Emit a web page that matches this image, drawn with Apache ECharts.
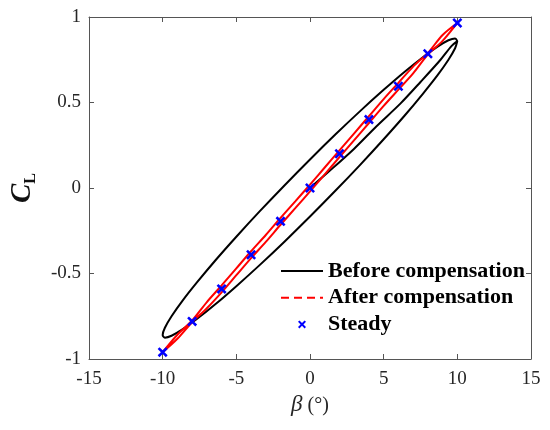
<!DOCTYPE html>
<html>
<head>
<meta charset="utf-8">
<title>CL - beta</title>
<script src="https://cdn.jsdelivr.net/npm/echarts@6/dist/echarts.min.js"></script>
<style>
    html, body { margin: 0; padding: 0; background: #fff; }
    #main { width: 550px; height: 430px; }
</style>
</head>
<body>
<div id="main"></div>
<script>
// data
// before compensation: start at origin, then one full loop (down branch, up branch)
var beforeBeta = [0, 1.2, 3, 4.5, 6.15, 7.5, 8.86, 9.6, 10,
    9.848, 9.397, 8.66, 7.66, 6.428, 5, 3.42, 1.736, 0, -1.736, -3.42, -5, -6.428, -7.66, -8.66, -9.397, -9.848, -10,
    -9.848, -9.397, -8.66, -7.66, -6.428, -5, -3.42, -1.736, 0, 1.736, 3.42, 5, 6.428, 7.66, 8.66, 9.397, 9.848, 10];
var beforeCl = [0, 0.09, 0.23, 0.36, 0.495, 0.62, 0.75, 0.83, 0.859,
    0.817, 0.75, 0.66, 0.551, 0.424, 0.285, 0.137, -0.015, -0.167, -0.314, -0.451, -0.574, -0.68, -0.765, -0.827, -0.864, -0.875, -0.859,
    -0.817, -0.75, -0.66, -0.551, -0.424, -0.285, -0.137, 0.015, 0.167, 0.314, 0.451, 0.574, 0.68, 0.765, 0.827, 0.864, 0.875, 0.859];

// after compensation: narrow loop
var afterBeta = [-10, -9, -8, -7, -6, -5, -4, -3, -2, -1, 0, 1, 2, 3, 4, 5, 6, 7, 8, 9, 10,
    9, 8, 7, 6, 5, 4, 3, 2, 1, 0, -1, -2, -3, -4, -5, -6, -7, -8, -9, -10];
var afterCl = [-0.96, -0.882, -0.785, -0.703, -0.61, -0.51, -0.41, -0.315, -0.215, -0.118, -0.02, 0.08, 0.18, 0.28, 0.38, 0.48, 0.575, 0.67, 0.78, 0.86, 0.965,
    0.895, 0.79, 0.71, 0.615, 0.52, 0.42, 0.32, 0.22, 0.12, 0.02, -0.078, -0.175, -0.275, -0.37, -0.47, -0.57, -0.667, -0.775, -0.858, -0.96];

// steady points
var steadyBeta = [-10, -8, -6, -4, -2, 0, 2, 4, 6, 8, 10];
var steadyCl = [-0.96, -0.78, -0.59, -0.39, -0.195, 0, 0.2, 0.4, 0.595, 0.785, 0.965];

var seriesNames = ['Before compensation', 'After compensation', 'Steady'];

function pairs(xs, ys) {
    var out = [];
    for (var i = 0; i < xs.length; i++) {
        out.push([xs[i], ys[i]]);
    }
    return out;
}

var serif = '"Liberation Serif", "Times New Roman", serif';
var axisColor = '#555';
var crossPath = 'path://M0,1.8 L1.8,0 L5,3.2 L8.2,0 L10,1.8 L6.8,5 L10,8.2 L8.2,10 L5,6.8 L1.8,10 L0,8.2 L3.2,5 Z';

// box axis: same range on the opposite side, ticks only
function boxAxis(pos, min, max, interval) {
    return {
        type: 'value',
        position: pos,
        min: min,
        max: max,
        interval: interval,
        axisLine: { show: true, onZero: false, lineStyle: { color: axisColor, width: 1 } },
        axisTick: { show: true, inside: true, length: 5, lineStyle: { color: axisColor, width: 1 } },
        axisLabel: { show: false },
        splitLine: { show: false }
    };
}

function getOption() {
    var xMain = boxAxis('bottom', -15, 15, 5);
    xMain.axisLabel = { show: true, margin: 11, color: '#262626', fontFamily: serif, fontSize: 19 };
    xMain.name = '{b|β}{d| (°)}';
    xMain.nameLocation = 'middle';
    xMain.nameGap = 32;
    xMain.nameTextStyle = {
        rich: {
            b: { fontFamily: serif, fontStyle: 'italic', fontSize: 23, color: '#262626' },
            d: { fontFamily: serif, fontSize: 20, color: '#262626' }
        }
    };
    var xTop = boxAxis('top', -15, 15, 5);

    var yMain = boxAxis('left', -1, 1, 0.5);
    yMain.axisLabel = { show: true, margin: 8, color: '#262626', fontFamily: serif, fontSize: 19 };
    yMain.name = '{c|C}{l|L}';
    yMain.nameLocation = 'middle';
    yMain.nameGap = 50;
    yMain.nameTextStyle = {
        rich: {
            c: { fontFamily: serif, fontStyle: 'italic', fontWeight: 'bold', fontSize: 29, lineHeight: 32, color: '#111' },
            l: { fontFamily: serif, fontWeight: 'bold', fontSize: 16, lineHeight: 16, verticalAlign: 'bottom', color: '#111' }
        }
    };
    var yRight = boxAxis('right', -1, 1, 0.5);

    var option = {
        backgroundColor: '#fff',
        animation: false,
        grid: { left: 89, right: 19, top: 17, bottom: 71 },
        xAxis: [xMain, xTop],
        yAxis: [yMain, yRight],
        legend: {
            orient: 'vertical',
            left: 280,
            top: 260,
            padding: 0,
            itemWidth: 42,
            itemHeight: 8,
            itemGap: 4.7,
            textStyle: { fontFamily: serif, fontWeight: 'bold', fontSize: 22, lineHeight: 22, color: '#000' },
            data: [
                { name: seriesNames[0], itemStyle: { opacity: 0 } },
                { name: seriesNames[1], itemStyle: { opacity: 0 }, lineStyle: { type: [8, 5] } },
                { name: seriesNames[2], icon: crossPath }
            ]
        },
        series: [{
            name: seriesNames[0],
            type: 'line',
            data: pairs(beforeBeta, beforeCl),
            smooth: 0.3,
            symbol: 'none',
            lineStyle: { color: '#000', width: 2 },
            itemStyle: { color: '#000' },
            z: 2
        }, {
            name: seriesNames[1],
            type: 'line',
            data: pairs(afterBeta, afterCl),
            smooth: 0.3,
            symbol: 'none',
            lineStyle: { color: '#ff0000', width: 2 },
            itemStyle: { color: '#ff0000' },
            z: 3
        }, {
            name: seriesNames[2],
            type: 'scatter',
            data: pairs(steadyBeta, steadyCl),
            symbol: crossPath,
            symbolSize: 10,
            symbolKeepAspect: true,
            itemStyle: { color: '#0000ff', opacity: 1 },
            z: 4
        }]
    };
    return option;
}

var chart = echarts.init(document.getElementById('main'), null, { renderer: 'canvas' });
chart.setOption(getOption());
</script>
</body>
</html>
